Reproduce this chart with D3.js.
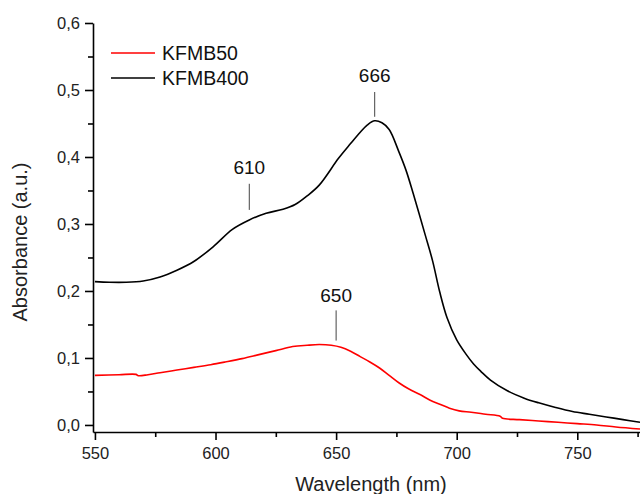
<!DOCTYPE html>
<html>
<head>
<meta charset="utf-8">
<script src="https://cdn.jsdelivr.net/npm/d3@7"></script>
<style>
  body { margin: 0; background: #fff; }
  text { font-family: Arial, "Liberation Sans", sans-serif; }
</style>
</head>
<body>
<div id="chart"></div>
<script>
// spectra (wavelength nm, absorbance)
var kfmb400_x = [550, 556, 563, 570, 577, 584, 591, 599, 607, 614, 621, 628, 633, 638, 643, 651, 656, 660, 663, 666, 669, 672, 676, 679, 682, 687, 690, 693, 696, 700, 704, 707, 710, 714, 721, 728, 734, 741, 748, 755, 762, 769, 776];
var kfmb400_y = [0.214, 0.213, 0.213, 0.215, 0.221, 0.231, 0.244, 0.266, 0.292, 0.306, 0.316, 0.322, 0.329, 0.342, 0.358, 0.398, 0.420, 0.437, 0.448, 0.454, 0.451, 0.441, 0.408, 0.380, 0.345, 0.283, 0.245, 0.198, 0.160, 0.127, 0.105, 0.091, 0.080, 0.067, 0.051, 0.040, 0.033, 0.026, 0.020, 0.016, 0.012, 0.008, 0.004];

var kfmb50_x = [550, 560, 567, 568, 572, 577, 584, 591, 598, 604, 611, 618, 625, 632, 638, 643, 648, 652, 656, 660, 664, 668, 672, 676, 680, 685, 689, 693, 697, 701, 706, 712, 718, 719, 726, 734, 742, 750, 758, 766, 776];
var kfmb50_y = [0.074, 0.075, 0.0755, 0.0735, 0.075, 0.078, 0.082, 0.086, 0.090, 0.094, 0.099, 0.105, 0.111, 0.117, 0.119, 0.120, 0.119, 0.116, 0.110, 0.102, 0.094, 0.085, 0.074, 0.063, 0.054, 0.045, 0.037, 0.031, 0.025, 0.021, 0.019, 0.016, 0.013, 0.010, 0.008, 0.006, 0.004, 0.002, 0.000, -0.003, -0.006];

var series_names = ["KFMB50", "KFMB400"];
var series_colors = ["#ff0000", "#000000"];

var x_ticks = [550, 600, 650, 700, 750];
var x_minor = [575, 625, 675, 725, 775];
var y_ticks = [0.0, 0.1, 0.2, 0.3, 0.4, 0.5, 0.6];
var y_minor = [0.05, 0.15, 0.25, 0.35, 0.45, 0.55];

// peak labels: text, wavelength, line bottom / top, text baseline (absorbance)
var peak_labels = ["610", "666", "650"];
var peak_x = [614, 666, 650];
var peak_y0 = [0.321, 0.460, 0.126];
var peak_y1 = [0.360, 0.497, 0.171];
var peak_ty = [0.374, 0.512, 0.183];

var W = 640, H = 494;
var margin = {top: 23, right: 0, bottom: 62, left: 93};

var svg = d3.select("#chart")
  .append("svg")
    .attr("width", W)
    .attr("height", H);

var x = d3.scaleLinear()
    .domain([549.2, 776])
    .range([margin.left, W - margin.right]);

var y = d3.scaleLinear()
    .domain([-0.0105, 0.6])
    .range([H - margin.bottom, margin.top]);

var fmt = function(d) { return d3.format(".1f")(d).replace(".", ","); };

// axes
svg.append("g")
    .attr("transform", "translate(0," + (H - margin.bottom) + ")")
    .call(d3.axisBottom(x).tickValues(x_ticks).tickSize(8).tickSizeOuter(0).tickPadding(7));
svg.append("g")
    .attr("transform", "translate(0," + (H - margin.bottom) + ")")
    .call(d3.axisBottom(x).tickValues(x_minor).tickSize(5).tickFormat(""))
    .select(".domain").remove();

svg.append("g")
    .attr("transform", "translate(" + margin.left + ",0)")
    .call(d3.axisLeft(y).tickValues(y_ticks).tickFormat(fmt).tickSize(8).tickSizeOuter(0).tickPadding(5));
svg.append("g")
    .attr("transform", "translate(" + margin.left + ",0)")
    .call(d3.axisLeft(y).tickValues(y_minor).tickSize(5).tickFormat(""))
    .select(".domain").remove();

svg.selectAll(".domain, .tick line")
    .attr("stroke", "#000")
    .attr("stroke-width", 1.6);
svg.selectAll(".tick text")
    .attr("fill", "#222")
    .style("font-size", "16.5px");

// axis titles
svg.append("text")
    .attr("x", 371)
    .attr("y", 491)
    .attr("text-anchor", "middle")
    .style("font-size", "20px")
    .attr("fill", "#222")
    .text("Wavelength (nm)");

svg.append("text")
    .attr("transform", "translate(27," + 242 + ") rotate(-90)")
    .attr("text-anchor", "middle")
    .style("font-size", "20px")
    .attr("fill", "#222")
    .text("Absorbance (a.u.)");

// curves
var line = d3.line()
    .x(function(d) { return x(d[0]); })
    .y(function(d) { return y(d[1]); })
    .curve(d3.curveCatmullRom.alpha(0.5));

var data = [
  d3.zip(kfmb50_x, kfmb50_y),
  d3.zip(kfmb400_x, kfmb400_y)
];

svg.append("g").selectAll("path")
  .data(data)
  .enter().append("path")
    .attr("d", line)
    .attr("fill", "none")
    .attr("stroke", function(d, i) { return series_colors[i]; })
    .attr("stroke-width", 1.6);

// legend
var legend = svg.append("g").selectAll("g")
    .data(series_names)
  .enter().append("g")
    .attr("transform", function(d, i) { return "translate(111," + (53 + i * 25) + ")"; });
legend.append("line")
    .attr("x1", 0).attr("x2", 44)
    .attr("stroke", function(d, i) { return series_colors[i]; })
    .attr("stroke-width", 1.6);
legend.append("text")
    .attr("x", 51)
    .attr("y", 7)
    .style("font-size", "19.5px")
    .attr("fill", "#111")
    .text(function(d) { return d; });

// peak labels
var peaks = svg.append("g").selectAll("g")
    .data(peak_labels)
  .enter().append("g");
peaks.append("line")
    .attr("x1", function(d, i) { return x(peak_x[i]); })
    .attr("x2", function(d, i) { return x(peak_x[i]); })
    .attr("y1", function(d, i) { return y(peak_y0[i]); })
    .attr("y2", function(d, i) { return y(peak_y1[i]); })
    .attr("stroke", "#444")
    .attr("stroke-width", 1);
peaks.append("text")
    .attr("x", function(d, i) { return x(peak_x[i]); })
    .attr("y", function(d, i) { return y(peak_ty[i]); })
    .attr("text-anchor", "middle")
    .style("font-size", "19px")
    .attr("fill", "#111")
    .text(function(d) { return d; });
</script>
</body>
</html>
